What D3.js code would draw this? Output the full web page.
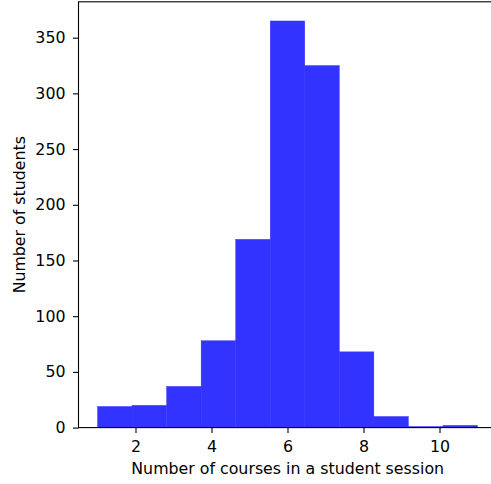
<!DOCTYPE html>
<html>
<head>
<meta charset="utf-8">
<script src="https://cdn.jsdelivr.net/npm/d3@7"></script>
<style>
  body { margin: 0; background: #fff; }
  svg { display: block; }
  .axis text { font-family: "DejaVu Sans", sans-serif; font-size: 15.8px; fill: #000; }
  .axis line { stroke: #000; stroke-width: 1.1; }
  .label { font-family: "DejaVu Sans", sans-serif; font-size: 15.8px; fill: #000; }
</style>
</head>
<body>
<svg width="491" height="484"></svg>
<script>
var binEdges = [1, 1.909, 2.818, 3.727, 4.636, 5.545, 6.455, 7.364, 8.273, 9.182, 10.091, 11];
var counts = [19, 20, 37, 78, 169, 365, 325, 68, 10, 1, 2];
var xTicks = [2, 4, 6, 8, 10];
var yTicks = [0, 50, 100, 150, 200, 250, 300, 350];

var bins = counts.map(function(c, i) {
    return { x0: binEdges[i], x1: binEdges[i + 1], count: c };
});

var xScale = d3.scaleLinear()
    .domain([0.5, 11.5])
    .range([78.5, 496.5]);

var yScale = d3.scaleLinear()
    .domain([0, 382.2])
    .range([427.6, 1.8]);

var svg = d3.select('svg');

svg.selectAll('rect.bar')
    .data(bins)
    .enter()
    .append('rect')
    .attr('class', 'bar')
    .attr('x', function(d){ return xScale(d.x0); })
    .attr('width', function(d){ return xScale(d.x1) - xScale(d.x0); })
    .attr('y', function(d){ return yScale(d.count); })
    .attr('height', function(d){ return yScale(0) - yScale(d.count); })
    .style('fill', '#3333ff')
    .style('stroke', '#3333ff')
    .style('stroke-width', 0.4);

// frame
svg.append('rect')
    .attr('x', 78.5)
    .attr('y', 1.8)
    .attr('width', 496.5 - 78.5)
    .attr('height', 427.6 - 1.8)
    .style('fill', 'none')
    .style('stroke', '#000')
    .style('stroke-width', 1.1);

var xAxis = d3.axisBottom(xScale)
    .tickValues(xTicks)
    .tickSize(5.5)
    .tickPadding(7.4);

svg.append('g')
    .attr('class', 'x axis')
    .attr('transform', 'translate(0,427.6)')
    .call(xAxis)
    .call(function(g){ g.select('.domain').remove(); });

var yAxis = d3.axisLeft(yScale)
    .tickValues(yTicks)
    .tickSize(5.5)
    .tickPadding(7.5);

svg.append('g')
    .attr('class', 'y axis')
    .attr('transform', 'translate(78.5,0)')
    .call(yAxis)
    .call(function(g){ g.select('.domain').remove(); });

svg.append('text')
    .attr('class', 'label')
    .attr('text-anchor', 'middle')
    .attr('x', 287.7)
    .attr('y', 474.3)
    .text('Number of courses in a student session');

svg.append('text')
    .attr('class', 'label')
    .attr('text-anchor', 'middle')
    .attr('transform', 'translate(24.5,214.7) rotate(-90)')
    .text('Number of students');
</script>
</body>
</html>
